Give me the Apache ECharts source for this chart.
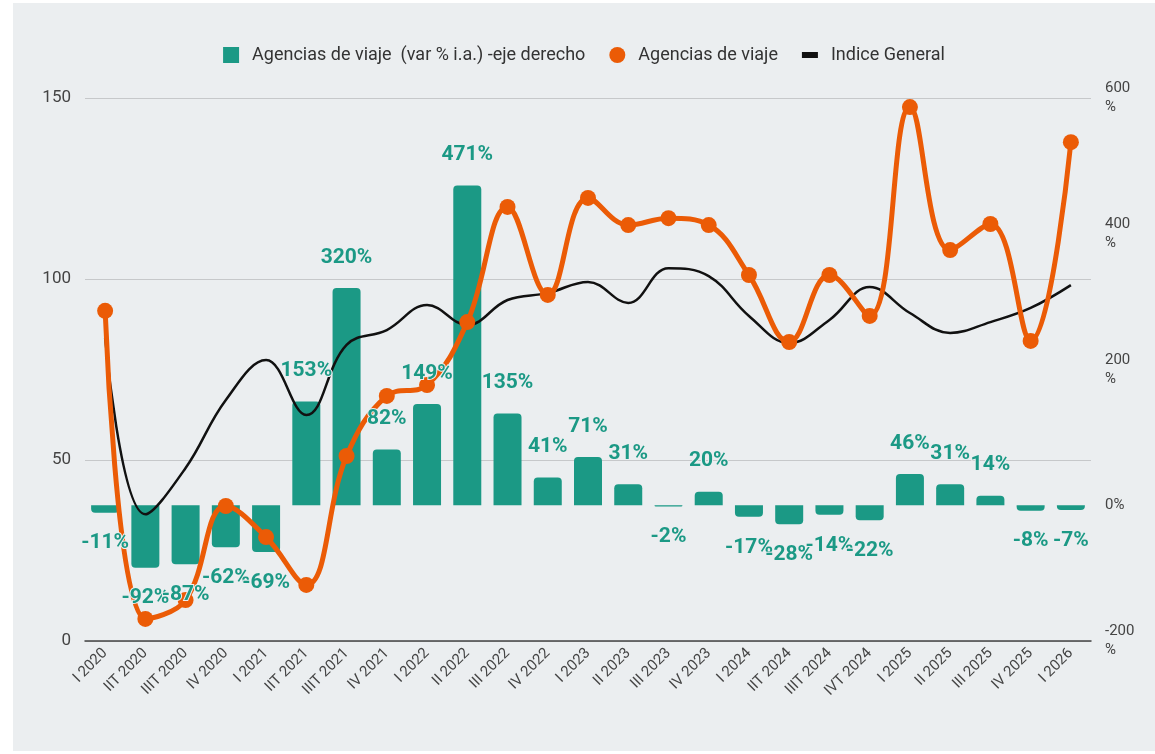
<!DOCTYPE html>
<html>
<head>
<meta charset="utf-8">
<title>Agencias de viaje</title>
<script src="https://cdn.jsdelivr.net/npm/echarts@6/dist/echarts.min.js"></script>
<style>
  html, body { margin: 0; padding: 0; background: #ffffff; }
  .grafico { position: absolute; left: 13px; top: 3px; width: 1142px; height: 748px; background: #ebeef0; }
</style>
</head>
<body>
<div class="grafico"></div>
<script>
// datos trimestrales
const trimestres = ['I 2020', 'IIT 2020', 'IIIT 2020', 'IV 2020', 'I 2021', 'IIT 2021', 'IIIT 2021', 'IV 2021',
  'I 2022', 'II 2022', 'III 2022', 'IV 2022', 'I 2023', 'II 2023', 'III 2023', 'IV 2023',
  'I 2024', 'IIT 2024', 'IIIT 2024', 'IVT 2024', 'I 2025', 'II 2025', 'III 2025', 'IV 2025', 'I 2026'];

// var % i.a. (eje derecho)
const varInteranual = [-11, -92, -87, -62, -69, 153, 320, 82, 149, 471, 135, 41, 71, 31, -2, 20, -17, -28, -14, -22, 46, 31, 14, -8, -7];

// indice agencias de viaje
const agencias = [91.2, 6.1, 11.3, 37.3, 28.7, 15.5, 51.1, 67.7, 70.7, 88.1, 119.9, 95.6, 122.4, 114.9, 116.8, 114.9,
  101.1, 82.6, 101.1, 89.8, 147.5, 108, 115.2, 82.9, 137.8];

// indice general
const indiceGeneral = [83.7, 35, 47.8, 66.6, 77.6, 62.4, 81.8, 85.9, 92.8, 87.3, 94.2, 96.1, 99.2, 93.4, 103, 100.8,
  89.8, 82.3, 88.7, 97.8, 90.6, 85.1, 88.1, 92, 98.3];

const ticksIzq = [0, 50, 100, 150];
const ticksDer = [-200, 0, 200, 400, 600];

(function () {
  let myChart = echarts.init(document.querySelector('.grafico'));

  const verde = '#1b9985';
  const naranja = '#eb5b06';
  const fuente = 'Roboto, "Noto Sans", sans-serif';

  // barras: esquinas redondeadas en el extremo
  const barras = varInteranual.map(function (v) {
    return { value: v, itemStyle: { borderRadius: v >= 0 ? [4, 4, 0, 0] : [0, 0, 4, 4] } };
  });
  const etiquetas = varInteranual.map(function (v) {
    return { value: v, label: { position: v >= 0 ? 'top' : 'bottom' } };
  });

  const option = {
    backgroundColor: '#ebeef0',
    textStyle: { fontFamily: fuente },
    legend: {
      top: 38,
      left: 'center',
      itemWidth: 16,
      itemHeight: 16,
      itemGap: 24,
      textStyle: { fontSize: 18, color: '#333', fontFamily: fuente, padding: [0, 0, 0, 8] },
      data: [
        { name: 'Agencias de viaje  (var % i.a.) -eje derecho', icon: 'rect' },
        { name: 'Agencias de viaje', icon: 'circle' },
        { name: 'Indice General', icon: 'path://M0,0h16v6h-16z' }
      ]
    },
    grid: { left: 72, right: 64, top: 95, bottom: 110 },
    xAxis: {
      type: 'category',
      data: trimestres,
      axisTick: { show: false },
      axisLine: { lineStyle: { color: '#444', width: 1.5 } },
      axisLabel: { rotate: 45, fontSize: 15, color: '#444', margin: 10, interval: 0, fontFamily: fuente }
    },
    yAxis: [
      {
        type: 'value',
        min: ticksIzq[0],
        max: ticksIzq[ticksIzq.length - 1],
        interval: 50,
        axisLine: { show: false },
        axisTick: { show: false },
        splitLine: { lineStyle: { color: '#c6c8ca', width: 1 } },
        axisLabel: { fontSize: 17, color: '#444', margin: 14, fontFamily: fuente }
      },
      {
        type: 'value',
        min: ticksDer[0],
        max: ticksDer[ticksDer.length - 1],
        interval: 200,
        axisLine: { show: false },
        axisTick: { show: false },
        splitLine: { show: false },
        axisLabel: {
          fontSize: 15, color: '#444', margin: 14, lineHeight: 19, fontFamily: fuente,
          formatter: function (v) { return v === 0 ? '0%' : v + '\n%'; }
        }
      }
    ],
    series: [
      {
        name: 'Agencias de viaje  (var % i.a.) -eje derecho',
        type: 'bar',
        yAxisIndex: 1,
        barWidth: 28,
        z: 1,
        itemStyle: { color: verde },
        data: barras
      },
      {
        name: 'Agencias de viaje',
        type: 'line',
        yAxisIndex: 0,
        smooth: 0.4,
        symbol: 'circle',
        symbolSize: 16,
        z: 4,
        lineStyle: { color: naranja, width: 5 },
        itemStyle: { color: naranja },
        data: agencias
      },
      {
        name: 'Indice General',
        type: 'line',
        yAxisIndex: 0,
        smooth: 0.4,
        showSymbol: false,
        z: 3,
        lineStyle: { color: '#111', width: 2.5 },
        itemStyle: { color: '#111' },
        data: indiceGeneral
      },
      {
        // capa de etiquetas encima de las líneas
        name: 'etiquetas',
        type: 'bar',
        yAxisIndex: 1,
        barWidth: 28,
        barGap: '-100%',
        z: 6,
        silent: true,
        itemStyle: { color: 'rgba(0,0,0,0)' },
        label: {
          show: true,
          distance: 20,
          color: verde,
          fontSize: 21,
          fontWeight: 'bold',
          fontFamily: fuente,
          textBorderColor: '#ebeef0',
          textBorderWidth: 2,
          formatter: function (p) { return p.value + '%'; }
        },
        data: etiquetas
      }
    ]
  };

  myChart.setOption(option);
})();
</script>
</body>
</html>
